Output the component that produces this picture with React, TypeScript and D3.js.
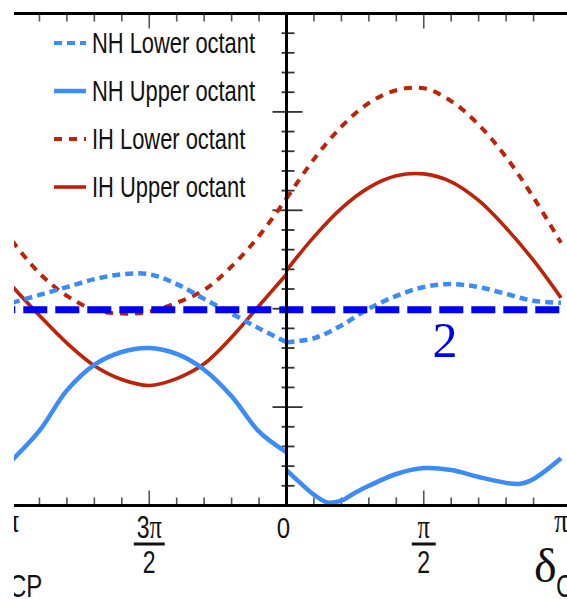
import React from "react";
import * as d3 from "d3";

// delta_CP in units of pi; left panel covers pi..2pi (shown as -1..0), right panel 0..pi
const deltaLeft = [-1, -0.9, -0.8, -0.7, -0.6, -0.5, -0.4, -0.3, -0.2, -0.1, 0];
const deltaRight = [0, 0.1, 0.2, 0.3, 0.4, 0.5, 0.6, 0.7, 0.8, 0.9, 1];
const deltaRightFine = [0, 0.05, 0.1, 0.15, 0.2, 0.25, 0.3, 0.4, 0.5, 0.6, 0.7, 0.8, 0.85, 0.9, 1];

const nhLowerLeft = [2.06, 2.14, 2.22, 2.3, 2.35, 2.35, 2.25, 2.1, 1.95, 1.8, 1.66];
const nhLowerRight = [1.66, 1.7, 1.83, 2.0, 2.13, 2.22, 2.25, 2.22, 2.15, 2.08, 2.06];

const nhUpperLeft = [0.46, 0.76, 1.17, 1.43, 1.56, 1.6, 1.54, 1.38, 1.11, 0.75, 0.54];
const nhUpperRight = [0.36, 0.23, 0.11, 0.03, 0.05, 0.13, 0.2, 0.32, 0.38, 0.36, 0.29, 0.23, 0.22, 0.27, 0.48];

const ihLowerLeft = [2.69, 2.36, 2.13, 1.99, 1.95, 1.97, 2.06, 2.19, 2.43, 2.74, 3.12];
const ihLowerRight = [3.12, 3.52, 3.85, 4.09, 4.22, 4.24, 4.11, 3.87, 3.54, 3.13, 2.67];

const ihUpperLeft = [2.23, 1.93, 1.65, 1.42, 1.28, 1.22, 1.29, 1.44, 1.71, 2.03, 2.35];
const ihUpperRight = [2.39, 2.73, 3.02, 3.23, 3.35, 3.37, 3.29, 3.1, 2.82, 2.49, 2.11];

const legendLabels = ["NH Lower octant", "NH Upper octant", "IH Lower octant", "IH Upper octant"];
const xTickValues = [-1, -0.5, 0, 0.5, 1];
const xTickNumerators = ["π", "3π", "0", "π", "π"];
const xTickDenominators = ["", "2", "", "2", ""];
const refLevel = 2;
const refLabel = "2";
const axisSymbol = "δ";
const axisSub = "CP";

const BLUE = "#3b8cf7";
const RED = "#be2208";
const REF = "#0000f2";

export default function App() {
  const W = 567;
  const H = 599;
  const x = d3.scaleLinear().domain([-1, 1]).range([12, 561]);
  const y = d3.scaleLinear().domain([0, 5]).range([505.5, 13.5]);

  const line = d3
    .line<[number, number]>()
    .x((d) => x(d[0]))
    .y((d) => y(d[1]))
    .curve(d3.curveCatmullRom.alpha(0.5));

  const series = [
    { left: ihLowerLeft, right: ihLowerRight, rx: deltaRight, color: RED, width: 4, dash: "8 7" },
    { left: ihUpperLeft, right: ihUpperRight, rx: deltaRight, color: RED, width: 3.6, dash: "" },
    { left: nhLowerLeft, right: nhLowerRight, rx: deltaRight, color: BLUE, width: 4.5, dash: "8 5" },
    { left: nhUpperLeft, right: nhUpperRight, rx: deltaRightFine, color: BLUE, width: 4.5, dash: "" },
  ];

  const legendStyles = [
    { color: BLUE, width: 4, dash: "8 5" },
    { color: BLUE, width: 4.5, dash: "" },
    { color: RED, width: 3.8, dash: "8 7" },
    { color: RED, width: 3.6, dash: "" },
  ];

  const minorX = d3.range(-10, 11).map((i) => i / 10).filter((v) => Math.abs(v) > 1e-9 && Math.abs(v) < 0.999);
  const yTicks = d3.range(1, 25).map((i) => i / 5);

  const x0 = x(0);
  const yTop = y(5);
  const yBot = y(0);

  const sans = "Liberation Sans, Arial, sans-serif";
  const serif = "Liberation Serif, Times New Roman, serif";

  return (
    <svg
      width={W}
      height={H}
      viewBox={`0 0 ${W} ${H}`}
      style={{ position: "absolute", left: 0, top: 0, background: "#fff" }}
    >
      <defs>
        <clipPath id="crop">
          <rect x={14} y={0} width={W - 14} height={H} />
        </clipPath>
        <clipPath id="plotArea">
          <rect x={14} y={yTop} width={W - 14} height={yBot - yTop} />
        </clipPath>
      </defs>
      <rect x={0} y={0} width={W} height={H} fill="#fff" />
      <g clipPath="url(#crop)">
        {/* x ticks top and bottom */}
        {minorX.map((v, i) => {
          const major = Math.abs(Math.abs(v) - 0.5) < 1e-9;
          const len = major ? 15 : 8;
          return (
            <g key={"xt" + i} stroke="#555" strokeWidth={1.6}>
              <line x1={x(v)} x2={x(v)} y1={yTop} y2={yTop + len} />
              <line x1={x(v)} x2={x(v)} y1={yBot} y2={yBot - len} />
            </g>
          );
        })}
        {/* y ticks */}
        {yTicks.map((v, i) => {
          const major = Math.abs(v - Math.round(v)) < 1e-9;
          return (
            <line
              key={"yt" + i}
              x1={major ? x0 - 14 : x0 - 5}
              x2={major ? x0 + 16 : x0 + 8}
              y1={y(v)}
              y2={y(v)}
              stroke="#333"
              strokeWidth={1.8}
            />
          );
        })}

        {/* curves */}
        <g clipPath="url(#plotArea)">
          {series.map((s, i) => (
            <g key={"s" + i} fill="none" stroke={s.color} strokeWidth={s.width} strokeDasharray={s.dash || undefined}>
              <path d={line(d3.zip(deltaLeft, s.left) as [number, number][]) || ""} />
              <path d={line(d3.zip(s.rx, s.right) as [number, number][]) || ""} />
            </g>
          ))}
        </g>

        {/* reference dashed line */}
        <line
          x1={-8.7}
          x2={W}
          y1={y(refLevel) + 1}
          y2={y(refLevel) + 1}
          stroke={REF}
          strokeWidth={7}
          strokeDasharray="24 8"
        />
        <text x={445} y={357} textAnchor="middle" fontFamily={serif} fontSize={50} fill={REF}>
          {refLabel}
        </text>

        {/* axes frame */}
        <line x1={0} x2={W} y1={yTop} y2={yTop} stroke="#000" strokeWidth={3} />
        <line x1={0} x2={W} y1={yBot} y2={yBot} stroke="#000" strokeWidth={3} />
        <line x1={x0} x2={x0} y1={yTop} y2={yBot} stroke="#000" strokeWidth={3} />

        {/* legend */}
        {legendLabels.map((lab, i) => {
          const ly = 43 + i * 48;
          const st = legendStyles[i];
          return (
            <g key={"lg" + i}>
              <line
                x1={54}
                x2={86}
                y1={ly}
                y2={ly}
                stroke={st.color}
                strokeWidth={st.width}
                strokeDasharray={st.dash || undefined}
              />
              <text
                transform={`translate(92,${ly + 10}) scale(0.755,1)`}
                fontFamily={sans}
                fontSize={29}
                fill="#111"
              >
                {lab}
              </text>
            </g>
          );
        })}

        {/* x tick labels */}
        {xTickValues.map((v, i) => {
          const cx = v === 0 ? x(v) - 3 : x(v);
          const num = xTickNumerators[i];
          const den = xTickDenominators[i];
          const renderNum = (s: string) =>
            s.split("").map((ch, k) =>
              ch === "π" ? (
                <tspan key={k} fontFamily={serif} fontSize={34}>
                  {ch}
                </tspan>
              ) : (
                <tspan key={k}>{ch}</tspan>
              )
            );
          if (den) {
            const bw = num.length > 1 ? 31 : 24;
            return (
              <g key={"xl" + i} fill="#111">
                <text
                  transform={`translate(${cx},538) scale(0.72,1)`}
                  textAnchor="middle"
                  fontFamily={sans}
                  fontSize={32}
                >
                  {renderNum(num)}
                </text>
                <line x1={cx - bw / 2} x2={cx + bw / 2} y1={544} y2={544} stroke="#111" strokeWidth={3} />
                <text
                  transform={`translate(${cx},573) scale(0.72,1)`}
                  textAnchor="middle"
                  fontFamily={sans}
                  fontSize={32}
                >
                  {den}
                </text>
              </g>
            );
          }
          const base = num === "π" ? 532 : 538;
          return (
            <text
              key={"xl" + i}
              transform={`translate(${cx},${base}) scale(0.8,1)`}
              textAnchor="middle"
              fontFamily={sans}
              fontSize={30}
              fill="#111"
            >
              {renderNum(num)}
            </text>
          );
        })}

        {/* axis titles (one per panel, both cropped at the edges) */}
        {[-13, 534].map((ax, i) => (
          <g key={"at" + i} fill="#111">
            <text x={ax} y={582} fontFamily={serif} fontSize={48}>
              {axisSymbol}
            </text>
            <text transform={`translate(${ax + 22},597) scale(0.75,1)`} fontFamily={sans} fontSize={32}>
              {axisSub}
            </text>
          </g>
        ))}
      </g>
    </svg>
  );
}
